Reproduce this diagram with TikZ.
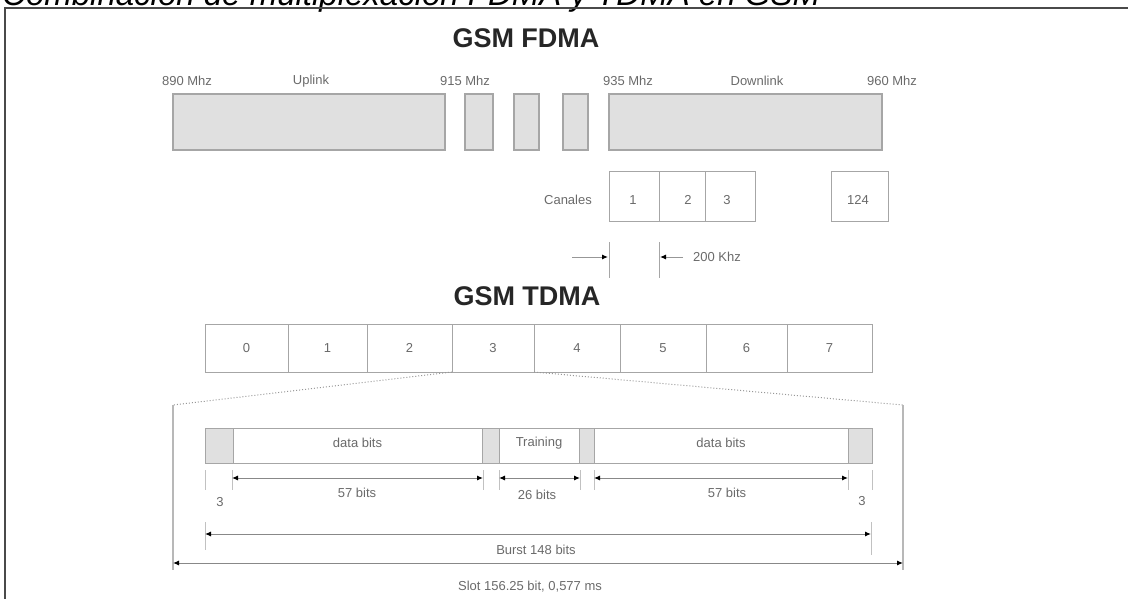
\documentclass[tikz,border=0pt]{standalone}
\usepackage{fontspec}
\setmainfont{Liberation Sans}
\usetikzlibrary{arrows.meta}

\definecolor{bandgray}{HTML}{E0E0E0}
\definecolor{edgegray}{HTML}{A6A6A6}
\definecolor{labelgray}{HTML}{6A6A6A}
\definecolor{framegray}{HTML}{4A4A4A}

\tikzset{
  band/.style={draw=edgegray, fill=bandgray, line width=1.2pt},
  cell/.style={draw=edgegray, fill=white, line width=1pt},
  guard/.style={draw=edgegray, fill=bandgray, line width=1pt},
  lbl/.style={text=labelgray, font=\fontsize{13}{15}\selectfont, inner sep=0pt},
  ttl/.style={text=black!85, font=\fontsize{27}{30}\selectfont\bfseries, inner sep=0pt},
  tickline/.style={draw=edgegray!70, line width=1pt},
  dimline/.style={draw=labelgray!80, line width=1pt,
    {Latex[length=6pt,width=5pt,black]}-{Latex[length=6pt,width=5pt,black]}},
  oneway/.style={draw=labelgray!70, line width=1pt,
    -{Latex[length=6pt,width=5pt,black]}},
}

\begin{document}
\begin{tikzpicture}[x=1pt, y=-1pt]
  \useasboundingbox (0,0) rectangle (1128,599);
  \clip (0,0) rectangle (1128,599);
  %% ── Page caption and frame (both cut by the page) ──────────
  \node[anchor=base west, font=\fontsize{33}{36}\selectfont\itshape, inner sep=0pt]
    (caption) at (2,6) {Combinación de multiplexación FDMA y TDMA en GSM};
  \draw[framegray, line width=1.6pt] (5,700) -- (5,8) -- (1200,8);

  %% ── GSM FDMA: bands ────────────────────────────────────────
  \node[ttl] (fdma) at (526,38) {GSM FDMA};
  \draw[band] (173,94) rectangle (445,150);
  \foreach \xa/\xb in {465/493, 514/539, 563/588}{
    \draw[band] (\xa,94) rectangle (\xb,150);
  }
  \draw[band] (609,94) rectangle (882,150);
  \foreach \x/\txt/\nm in {187/{890 Mhz}/f890, 311/{Uplink}/up, 465/{915 Mhz}/f915,
                           628/{935 Mhz}/f935, 757/{Downlink}/down, 892/{960 Mhz}/f960}{
    \node[lbl] (\nm) at (\x,81) {\txt};
  }

  %% ── Channels ───────────────────────────────────────────────
  \node[lbl] (canales) at (568,200) {Canales};
  \foreach \xa/\xb/\tx/\txt in {609/659/633/1, 659/705/688/2, 705/755/727/3, 831/888/858/124}{
    \draw[cell] (\xa,172) rectangle (\xb,221);
    \node[lbl] (ch\txt) at (\tx,200) {\txt};
  }
  %% 200 Khz spacing marker
  \draw[tickline, draw=labelgray!60] (609,242) -- (609,278);
  \draw[tickline, draw=labelgray!60] (659,242) -- (659,278);
  \coordinate (wl) at (572,257);
  \coordinate (wla) at (608,257);
  \coordinate (wr) at (683,257);
  \coordinate (wra) at (660,257);
  \draw[oneway] (wl) -- (wla);
  \draw[oneway] (wr) -- (wra);
  \node[lbl, anchor=west] (khz) at (693,257) {200 Khz};

  %% ── GSM TDMA: frame of 8 slots ─────────────────────────────
  \node[ttl] (tdma) at (527,296) {GSM TDMA};
  \foreach \xa/\xb/\i in {205/288/0, 288/367/1, 367/452/2, 452/534/3,
                          534/620/4, 620/706/5, 706/787/6, 787/872/7}{
    \draw[cell] (\xa,324) rectangle (\xb,372);
    \node[lbl] (ts\i) at ({(\xa+\xb)/2},348) {\i};
  }
  %% zoom of slot 3
  \coordinate (zl) at (452,372);
  \coordinate (zr) at (534,372);
  \coordinate (sl) at (173,405);
  \coordinate (sr) at (903,405);
  \draw[labelgray!70, dotted, line width=1pt] (zl) -- (sl);
  \draw[labelgray!70, dotted, line width=1pt] (zr) -- (sr);
  \draw[edgegray!80, line width=1.2pt] (sl) -- ++(0,165);
  \draw[edgegray!80, line width=1.2pt] (sr) -- ++(0,165);

  %% ── Normal burst ───────────────────────────────────────────
  \foreach \xa/\xb/\sty/\txt in {205/233/guard/{}, 233/482/cell/{data bits},
                                 482/499/guard/{}, 499/579/cell/{Training},
                                 579/594/guard/{}, 594/848/cell/{data bits},
                                 848/872/guard/{}}{
    \draw[\sty] (\xa,428) rectangle (\xb,463);
    \node[lbl] at ({(\xa+\xb)/2},443) {\txt};
  }
  %% field widths
  \foreach \x/\nm in {205/a, 232/b, 483/c, 499/d, 580/e, 594/f, 848/g, 872/h}{
    \draw[tickline] (\x,470) -- (\x,490);
    \coordinate (d\nm) at (\x,478);
  }
  \draw[dimline] (db) -- (dc);
  \draw[dimline] (dd) -- (de);
  \draw[dimline] (df) -- (dg);
  \node[lbl] (tail1) at (220,502) {3};
  \node[lbl] (data1) at (357,493) {57 bits};
  \node[lbl] (train) at (537,495) {26 bits};
  \node[lbl] (data2) at (727,493) {57 bits};
  \node[lbl] (tail2) at (862,501) {3};
  %% burst and slot lengths
  \draw[tickline] (205,522) -- (205,550);
  \draw[tickline] (871,522) -- (871,555);
  \coordinate (ba) at (205,534);
  \coordinate (bb) at (871,534);
  \draw[dimline] (ba) -- (bb);
  \node[lbl] (burst) at (536,550) {Burst 148 bits};
  \coordinate (sa) at (173,563);
  \coordinate (sb) at (903,563);
  \draw[dimline] (sa) -- (sb);
  \node[lbl] (slot) at (530,587) {Slot 156.25 bit, 0,577 ms};
\end{tikzpicture}
\end{document}
